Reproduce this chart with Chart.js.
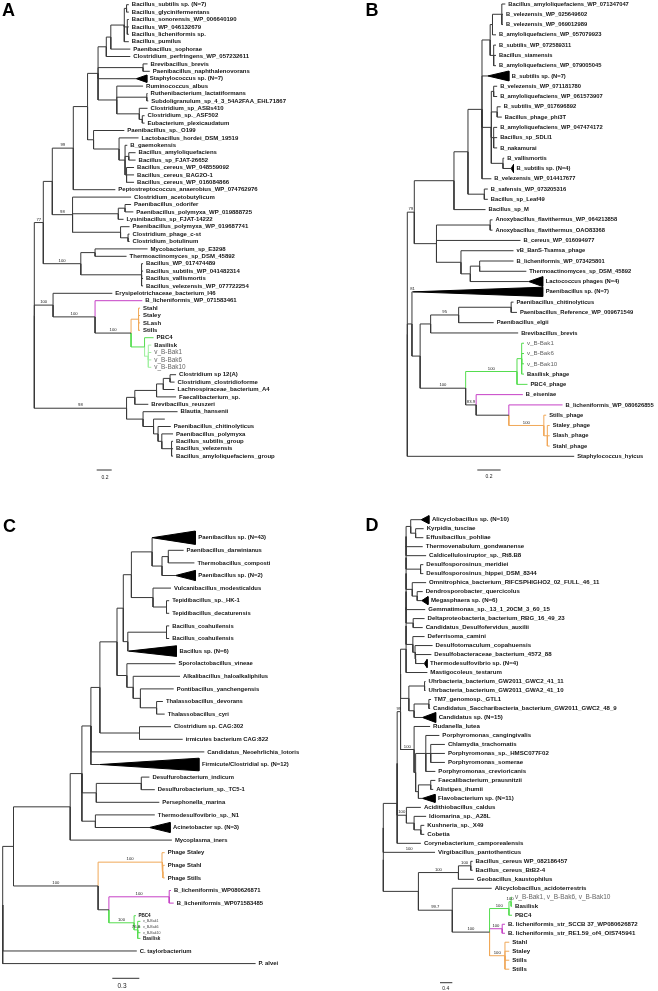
<!DOCTYPE html>
<html>
<head>
<meta charset="utf-8">
<script src="https://cdn.jsdelivr.net/npm/chart.js@4.4.1/dist/chart.umd.min.js"></script>
<style>
  html, body { margin: 0; padding: 0; background: #fff; }
  #wrap { position: relative; width: 658px; height: 991px; }
  canvas { position: absolute; }
</style>
</head>
<body>
<div id="wrap">
  <canvas id="cA" width="329" height="495" style="left:0;top:0;width:329px;height:495px"></canvas>
  <canvas id="cB" width="329" height="495" style="left:329px;top:0;width:329px;height:495px"></canvas>
  <canvas id="cC" width="329" height="495" style="left:0;top:495px;width:329px;height:495px"></canvas>
  <canvas id="cD" width="329" height="495" style="left:329px;top:495px;width:329px;height:495px"></canvas>
</div>
<script>
// ---- tree data ----
// topology strings: leaf = row index, internal = (...)distanceFromRoot, ":x" = bootstrap, "#c" = clade colour
// tips = distance from root of each leaf (base of the wedge for collapsed clades)
// wedges = [leaf, apex distance, half height in rows]

const namesA = [
  'Bacillus_subtilis sp. (N=7)', 'Bacillus_glycinifermentans', 'Bacillus_sonorensis_WP_006640190',
  'Bacillus_WP_046132679', 'Bacillus_licheniformis sp.', 'Bacillus_pumilus', 'Paenibacillus_sophorae',
  'Clostridium_perfringens_WP_057232611', 'Brevibacillus_brevis', 'Paenibacillus_naphthalenovorans',
  'Staphylococcus sp. (N=7)', 'Ruminococcus_albus', 'Ruthenibacterium_lactatiformans',
  'Subdoligranulum_sp_4_3_54A2FAA_EHL71867', 'Clostridium_sp_ASBs410', 'Clostridium_sp._ASF502',
  'Eubacterium_plexicaudatum', 'Paenibacillus_sp._O199', 'Lactobacillus_hordei_DSM_19519', 'B_gaemokensis',
  'Bacillus_amyloliquefaciens', 'Bacillus_sp_FJAT-26652', 'Bacillus_cereus_WP_048559092',
  'Bacillus_cereus_BAG2O-1', 'Bacillus_cereus_WP_016084866', 'Peptostreptococcus_anaerobius_WP_074762976',
  'Clostridium_acetobutylicum', 'Paenibacillus_odorifer', 'Paenibacillus_polymyxa_WP_019888725',
  'Lysinibacillus_sp_FJAT-14222', 'Paenibacillus_polymyxa_WP_019687741', 'Clostridium_phage_c-st',
  'Clostridium_botulinum', 'Mycobacterium_sp_E3298', 'Thermoactinomyces_sp_DSM_45892', 'Bacillus_WP_017474489',
  'Bacillus_subtilis_WP_041482314', 'Bacillus_vallismortis', 'Bacillus_velezensis_WP_077722254',
  'Erysipelotrichaceae_bacterium_I46', 'B_licheniformis_WP_071583461', 'Stahl', 'Staley', 'SLash', 'Stills',
  'PBC4', 'Basilisk', 'v_B-Bak1', 'v_B-Bak6', 'v_B-Bak10', 'Clostridium sp 12(A)',
  'Clostridium_clostridioforme', 'Lachnospiraceae_bacterium_A4', 'Faecalibacterium_sp.',
  'Brevibacillus_reuszeri', 'Blautia_hansenii', '', 'Paenibacillus_chitinolyticus', 'Paenibacillus_polymyxa',
  'Bacillus_subtilis_group', 'Bacillus_velezensis', 'Bacillus_amyloliquefaciens_group'
];
const tipsA = [
  1.26, 1.26, 1.26, 1.26, 1.26, 1.26, 1.28, 1.28, 1.51, 1.54,
  1.50, 1.45, 1.51, 1.52, 1.51, 1.47, 1.47, 1.20, 1.39, 1.24,
  1.35, 1.35, 1.33, 1.33, 1.33, 1.08, 1.29, 1.29, 1.32, 1.19,
  1.27, 1.27, 1.27, 1.51, 1.23, 1.45, 1.45, 1.45, 1.45, 1.04,
  1.44, 1.41, 1.41, 1.41, 1.41, 1.59, 1.56, 1.56, 1.56, 1.56,
  1.89, 1.87, 1.87, 1.89, 1.52, 1.91, 1.74, 1.82, 1.85, 1.85,
  1.85, 1.85
];
const topoA =
  '((((((((((0,1)1.23,(2,3,4)1.24,5)1.20,6)1.02,7)0.96,(8,9)1.45,10,' +
  '(11,(12,13)1.50,(14,(15,16)1.44)1.40)1.10)0.85,' +
  '(17,(18,(19,(20,21)1.26,(22,23,24)1.23)1.21)1.13)0.79)0.71,25)0.52:99,' +
  '(26,((27,28)1.21,29)1.12,(30,(31,32)1.25)1.15)0.51:98)0.24,' +
  '((33,34)0.81,(35,36,37,38)1.43)0.62:100)0.12:77,' +
  '(39,(40#m,((41,42,43,44)1.39#o,(45,(46,47,48,49)1.52#l)1.47#g)1.29:100)0.81:100)0.25:100,' +
  '(((((50,51)1.81,52)1.72,53)1.63,54)1.34,(55,(56,(57,(58,(59,60,61)1.83)1.70)1.65)1.59)1.45)1.23:98)0';
const wedgesA = [[10, 1.36, 0.5]];
const softA = [47, 48, 49];
const scaleA = 0.2;

const namesB = [
  'Bacillus_amyloliquefaciens_WP_071347047', 'B_velezensis_WP_025649602', 'B_velezensis_WP_069012989',
  'B_amyloliquefaciens_WP_057079923', 'B_subtilis_WP_072589311', 'Bacillus_siamensis',
  'B_amyloliquefaciens_WP_079005045', 'B_subtilis sp. (N=7)', 'B_velezensis_WP_071181780',
  'B_amyloliquefaciens_WP_061573907', 'B_subtilis_WP_017696892', 'Bacillus_phage_phi3T',
  'B_amyloliquefaciens_WP_047474172', 'Bacillus_sp_SDLI1', 'B_nakamurai', 'B_vallismortis',
  'B_subtilis sp. (N=4)', 'B_velezensis_WP_014417677', 'B_safensis_WP_073205316', 'Bacillus_sp_Leaf49',
  'Bacillus_sp_M', 'Anoxybacillus_flavithermus_WP_064213858', 'Anoxybacillus_flavithermus_OAO83368',
  'B_cereus_WP_016094977', 'vB_BanS-Tsamsa_phage', 'B_licheniformis_WP_073425801',
  'Thermoactinomyces_sp_DSM_45892', 'Lactococcus phages (N=4)', 'Paenibacillus sp. (N=7)',
  'Paenibacillus_chitinolyticus', 'Paenibacillus_Reference_WP_009671549', 'Paenibacillus_elgii',
  'Brevibacillus_brevis', 'v_B-Bak1', 'v_B-Bak6', 'v_B-Bak10', 'Basilisk_phage', 'PBC4_phage', 'B_eiseniae',
  'B_licheniformis_WP_080626855', 'Stills_phage', 'Staley_phage', 'Slash_phage', 'Stahl_phage',
  'Staphylococcus_hyicus'
];
const tipsB = [
  0.84, 0.82, 0.82, 0.76, 0.76, 0.76, 0.76, 0.87, 0.77, 0.77,
  0.80, 0.81, 0.77, 0.77, 0.77, 0.83, 0.91, 0.72, 0.69, 0.69,
  0.67, 0.73, 0.73, 0.97, 0.91, 0.91, 1.02, 1.16, 1.16, 0.91,
  0.94, 0.74, 0.95, 1.00, 1.00, 1.00, 1.00, 1.03, 0.99, 1.33,
  1.19, 1.22, 1.22, 1.22, 1.43
];
const topoB =
  '((((((((0,1,2)0.81,3)0.73,(4,5,6)0.74)0.71,7,' +
  '((8,9)0.74,(10,11)0.77,(12,13,14)0.74,(15,16)0.82)0.72,17)0.64,' +
  '(18,19)0.66)0.52,20)0.40,' +
  '((21,22)0.71,23,(24,((25,26)0.62,27)0.54)0.46)0.25)0.06:79,' +
  '(28:81,((((29,30)0.89,31)0.44:95,32)0.20,' +
  '(((33,34,35,36)0.98,37)0.94:100#g,(38#m,(39#m,(40,(41,42,43)1.20)1.17:100#o)0.87)0.59:83.9)0.50:100' +
  ')0.11)0.04,44)0';
const wedgesB = [[7, 0.69, 0.48], [16, 0.89, 0.38], [27, 1.04, 0.48], [28, 0.05, 0.45]];
const softB = [33, 34, 35];
const scaleB = 0.2;

const namesC = [
  'Paenibacillus sp. (N=43)', 'Paenibacillus_darwinianus', 'Thermobacillus_composti', 'Paenibacillus sp. (N=2)',
  'Vulcanibacillus_modesticaldus', 'Tepidibacillus_sp._HK-1', 'Tepidibacillus_decaturensis',
  'Bacillus_coahuilensis', 'Bacillus_coahuilensis', 'Bacillus sp. (N=6)', 'Sporolactobacillus_vineae',
  'Alkalibacillus_haloalkaliphilus', 'Pontibacillus_yanchengensis', 'Thalassobacillus_devorans',
  'Thalassobacillus_cyri', 'Clostridium sp. CAG:302', 'irmicutes bacterium CAG:822',
  'Candidatus_Neoehrlichia_lotoris', 'Firmicute/Clostridial sp. (N=12)', 'Desulfurobacterium_indicum',
  'Desulfurobacterium_sp._TC5-1', 'Persephonella_marina', 'Thermodesulfovibrio_sp._N1',
  'Acinetobacter sp. (N=3)', 'Mycoplasma_iners', 'Phage Staley', 'Phage Stahl', 'Phage Stills',
  'B_licheniformis_WP080626871', 'B_licheniformis_WP071583485', 'PBC4', 'v_B-Bak1', 'v_B-Bak6', 'v_B-Bak10',
  'Basilisk', 'C. taylorbacterium', 'P. alvei'
];
const tipsC = [
  2.14, 2.01, 2.13, 2.14, 1.87, 1.85, 1.85, 1.85, 1.85, 1.93,
  1.92, 1.97, 1.90, 1.78, 1.80, 1.87, 2.00, 2.24, 2.18, 1.63,
  1.69, 1.74, 1.69, 1.86, 1.88, 1.80, 1.80, 1.80, 1.87, 1.90,
  1.48, 1.53, 1.53, 1.53, 1.53, 1.49, 2.81
];
const topoC =
  '((((((((((0,((1,2)1.84,3)1.77)1.66,(4,(5,6)1.82)1.67)1.43,' +
  '((7,8)1.82,9)1.39)1.34,' +
  '(10,(11,(12,(13,14)1.71)1.53)1.45)1.38)1.27,' +
  '(15,16)1.52)1.08,17,18)0.98,' +
  '((19,20)1.54,21)1.04,(22,23)1.03)0.88,24)0.75,' +
  '((25,(26,27)1.78)1.77:100#o,((28,29)1.85:100#m,(30,(31,32,33,34)1.50:76.8)1.46:100#g)1.18)1.06:100)0.12,' +
  '35,36)0';
const wedgesC = [[0, 1.66, 0.53], [3, 1.92, 0.4], [9, 1.40, 0.42], [18, 1.08, 0.5], [23, 1.63, 0.4]];
const smallC = [30, 34];
const tinyC = [31, 32, 33];
const scaleC = 0.3;

const namesD = [
  'Alicyclobacillus sp. (N=10)', 'Kyrpidia_tusciae', 'Effusibacillus_pohliae', 'Thermovenabulum_gondwanense',
  'Caldicellulosiruptor_sp._Rt8.B8', 'Desulfosporosinus_meridiei', 'Desulfosporosinus_hippei_DSM_8344',
  'Omnitrophica_bacterium_RIFCSPHIGHO2_02_FULL_46_11', 'Dendrosporobacter_quercicolus', 'Megasphaera sp. (N=6)',
  'Gemmatimonas_sp._13_1_20CM_3_60_15', 'Deltaproteobacteria_bacterium_RBG_16_49_23',
  'Candidatus_Desulfofervidus_auxilii', 'Deferrisoma_camini', 'Desulfotomaculum_copahuensis',
  'Desulfobacteraceae_bacterium_4572_88', 'Thermodesulfovibrio sp. (N=4)', 'Mastigocoleus_testarum',
  'Uhrbacteria_bacterium_GW2011_GWC2_41_11', 'Uhrbacteria_bacterium_GW2011_GWA2_41_10', 'TM7_genomosp._GTL1',
  'Candidatus_Saccharibacteria_bacterium_GW2011_GWC2_48_9', 'Candidatus sp. (N=15)', 'Rudanella_lutea',
  'Porphyromonas_cangingivalis', 'Chlamydia_trachomatis', 'Porphyromonas_sp._HMSC077F02',
  'Porphyromonas_somerae', 'Porphyromonas_crevioricanis', 'Faecalibacterium_prausnitzii', 'Alistipes_ihumii',
  'Flavobacterium sp. (N=11)', 'Acidithiobacillus_caldus', 'Idiomarina_sp._A28L', 'Kushneria_sp._X49',
  'Cobetia', 'Corynebacterium_camporealensis', 'Virgibacillus_pantothenticus', 'Bacillus_cereus WP_082186457',
  'Bacillus_cereus_BtB2-4', 'Geobacillus_kaustophilus', 'Alicyclobacillus_acidoterrestris',
  'v_B-Bak1, v_B-Bak6, v_B-Bak10', 'Basilisk', 'PBC4', 'B. licheniformis_str_SCCB 37_WP080626872',
  'B. licheniformis_str_RE1.59_of4_OIS745941', 'Stahl', 'Staley', 'Stills', 'Stills'
];
const tipsD = [
  1.48, 1.31, 1.30, 1.28, 1.39, 1.30, 1.30, 1.39, 1.28, 1.45,
  1.36, 1.34, 1.28, 1.34, 1.60, 1.56, 1.42, 1.43, 1.37, 1.37,
  1.55, 1.52, 1.70, 1.52, 1.82, 2.00, 2.00, 2.00, 1.69, 1.69,
  1.62, 1.68, 1.22, 1.39, 1.33, 1.33, 1.22, 1.68, 2.90, 2.90,
  2.94, 3.52, 4.18, 4.18, 4.18, 3.95, 3.95, 4.09, 4.09, 4.09,
  4.09
];
const topoD =
  '((((((' +
  '(((((((((0,(1,2)1.05)0.89,3)0.74,4)0.74,(5,6)1.21)0.74,(7,(8,9)1.10)0.94)0.74,10)0.74,' +
  '(11,12)0.97)0.74,(13,(14,(15,16)1.05)1.03)0.96)0.74,17)0.74,' +
  '((18,19)1.34,((20,21)1.48,22)1.00)0.83)0.56,' +
  '(23,((24,(25,26,27)1.54,28)1.38,((29,30)1.54,31)1.14)1.05)1.00:100)0.56:99,' +
  '(32,(33,(34,35)1.22)1.00)0.75:100)0.45,36)0.45,37:100)0,' +
  '(((38,39)2.84:100,40)2.44:100,(41,(((42,43)4.15:100,44)4.08:100#g,(45,46)3.86:100#m,' +
  '(47,48,49,50)3.95:100#o)3.45:100)2.24:99.7)1.14)0';
const wedgesD = [[0, 1.23, 0.45], [9, 1.25, 0.45], [16, 1.33, 0.45], [22, 1.27, 0.55], [31, 1.27, 0.45]];
const softD = [42];
const scaleD = 0.4;

// ---- drawing ----
const FACE = '"Liberation Sans", Arial, Helvetica, sans-serif';
const COLORS = { k: '#383838', o: '#f0a858', g: '#55dd4f', l: '#a3f0a3', m: '#c640c6' };

function parseTopo(str) {
  const s = str.replace(/\s+/g, '');
  let i = 0;
  function num() {
    const j = i;
    while (i < s.length && /[0-9.]/.test(s[i])) i++;
    return s.slice(j, i);
  }
  function node() {
    let n;
    if (s[i] === '(') {
      i++;
      n = { kids: [] };
      for (;;) {
        n.kids.push(node());
        if (s[i] === ',') { i++; continue; }
        i++; // ')'
        break;
      }
      n.depth = parseFloat(num());
    } else {
      n = { leaf: parseInt(num(), 10) };
    }
    if (s[i] === ':') { i++; n.boot = num(); }
    if (s[i] === '#') { n.col = s[i + 1]; i += 2; }
    return n;
  }
  return node();
}

function drawPanel(p) {
  const small = new Set(p.small || []), tiny = new Set(p.tiny || []), soft = new Set(p.soft || []);
  const rows = [];
  p.names.forEach((_, i) => {
    const tight = (small.has(i) || tiny.has(i)) && (small.has(i - 1) || tiny.has(i - 1));
    rows.push(i === 0 ? 0 : rows[i - 1] + (tight ? 0.45 : 1));
  });
  const wedgeOf = {};
  p.wedges.forEach(w => { wedgeOf[w[0]] = w; });

  const root = parseTopo(p.topo);
  function place(n, color) {
    n.c = n.col ? COLORS[n.col] : color;
    if (n.kids) {
      n.kids.forEach(k => place(k, n.c));
      n.x = n.depth;
      n.y = (n.kids[0].y + n.kids[n.kids.length - 1].y) / 2;
    } else {
      n.x = wedgeOf[n.leaf] ? wedgeOf[n.leaf][1] : p.tips[n.leaf];
      n.y = rows[n.leaf];
    }
  }
  place(root, COLORS.k);

  const segs = {};
  const boots = [];
  (function link(n) {
    if (!n.kids) return;
    n.kids.forEach(k => {
      const d = segs[k.c] || (segs[k.c] = []);
      d.push({ x: n.x, y: n.y }, { x: n.x, y: k.y }, { x: k.x, y: k.y }, { x: k.x, y: null });
      if (k.boot) boots.push({ x: (n.x + k.x) / 2, y: k.y, t: k.boot });
      link(k);
    });
  })(root);

  const datasets = [];
  const colorKeys = Object.keys(segs).sort((a, b) => (a === COLORS.k ? -1 : b === COLORS.k ? 1 : 0));
  colorKeys.forEach(c => datasets.push({
    data: segs[c], showLine: true, borderColor: c, borderWidth: 1,
    pointRadius: 0, fill: false, spanGaps: false
  }));
  p.wedges.forEach(w => {
    const y = rows[w[0]], base = p.tips[w[0]];
    datasets.push({
      data: [{ x: w[1], y: y }, { x: base, y: y - w[2] }, { x: base, y: y + w[2] }, { x: w[1], y: y }],
      showLine: true, borderColor: '#000', backgroundColor: '#000', borderWidth: 1,
      pointRadius: 0, fill: 'shape'
    });
  });
  const bx = (p.bar[0] - p.rootPx) / p.ppu, by = (p.bar[1] - p.row0) / p.rowH;
  datasets.push({
    data: [{ x: bx, y: by }, { x: bx + p.scale, y: by }],
    showLine: true, borderColor: '#333', borderWidth: 1, pointRadius: 0, fill: false
  });

  const textPlugin = {
    id: 'treeText',
    afterDatasetsDraw(chart) {
      const ctx = chart.ctx, xs = chart.scales.x, ys = chart.scales.y;
      ctx.save();
      ctx.textAlign = 'left';
      ctx.textBaseline = 'middle';
      p.names.forEach((name, i) => {
        if (!name) return;
        let font = 'bold ' + p.font + 'px ' + FACE, color = '#141414', gap = 3;
        if (soft.has(i)) { font = (p.font + 0.4) + 'px ' + FACE; color = '#666'; }
        if (small.has(i)) { font = 'bold 4.6px ' + FACE; gap = 2.5; }
        if (tiny.has(i)) { font = '3.6px ' + FACE; color = '#444'; gap = 2.5; }
        ctx.font = font;
        ctx.fillStyle = color;
        ctx.fillText(name, xs.getPixelForValue(p.tips[i]) + gap, ys.getPixelForValue(rows[i]));
      });
      ctx.font = '4.2px ' + FACE;
      ctx.fillStyle = '#222';
      ctx.textAlign = 'center';
      ctx.textBaseline = 'bottom';
      boots.forEach(b => ctx.fillText(b.t, xs.getPixelForValue(b.x), ys.getPixelForValue(b.y) - 1));
      ctx.textBaseline = 'middle';
      ctx.font = p.barFont + 'px ' + FACE;
      ctx.fillText(String(p.scale), p.barText[0], p.barText[1]);
      ctx.font = 'bold 18px ' + FACE;
      ctx.fillStyle = '#000';
      ctx.textAlign = 'left';
      ctx.textBaseline = 'alphabetic';
      ctx.fillText(p.letter, p.letterPos[0], p.letterPos[1]);
      ctx.restore();
    }
  };

  new Chart(document.getElementById(p.id).getContext('2d'), {
    type: 'scatter',
    data: { datasets: datasets },
    options: {
      responsive: false,
      animation: false,
      devicePixelRatio: 1,
      events: [],
      layout: { padding: 0 },
      plugins: { legend: { display: false }, tooltip: { enabled: false } },
      scales: {
        x: { type: 'linear', display: false, min: -p.rootPx / p.ppu, max: (329 - p.rootPx) / p.ppu },
        y: { type: 'linear', display: false, reverse: true, min: -p.row0 / p.rowH, max: (495 - p.row0) / p.rowH }
      }
    },
    plugins: [textPlugin]
  });
}

drawPanel({ id: 'cA', letter: 'A', names: namesA, tips: tipsA, topo: topoA, wedges: wedgesA, soft: softA,
  scale: scaleA, rootPx: 34.3, ppu: 75, row0: 4.7, rowH: 7.40, font: 6.0,
  letterPos: [2, 16], bar: [96.7, 470], barText: [105, 477.5], barFont: 5 });
drawPanel({ id: 'cB', letter: 'B', names: namesB, tips: tipsB, topo: topoB, wedges: wedgesB, soft: softB,
  scale: scaleB, rootPx: 78.3, ppu: 116.7, row0: 4, rowH: 10.28, font: 5.8,
  letterPos: [36.5, 16], bar: [148.3, 470], barText: [160, 477], barFont: 5 });
drawPanel({ id: 'cC', letter: 'C', names: namesC, tips: tipsC, topo: topoC, wedges: wedgesC,
  small: smallC, tiny: tinyC, scale: scaleC, rootPx: 2.7, ppu: 90, row0: 42.7, rowH: 12.6, font: 5.9,
  letterPos: [3, 36.5], bar: [112.3, 483.3], barText: [122, 491.5], barFont: 6.5 });
drawPanel({ id: 'cD', letter: 'D', names: namesD, tips: tipsD, topo: topoD, wedges: wedgesD, soft: softD,
  scale: scaleD, rootPx: 54.3, ppu: 30.8, row0: 24.7, rowH: 8.99, font: 6.1,
  letterPos: [36.5, 36], bar: [111, 487.7], barText: [116.7, 493.3], barFont: 5 });
</script>
</body>
</html>
